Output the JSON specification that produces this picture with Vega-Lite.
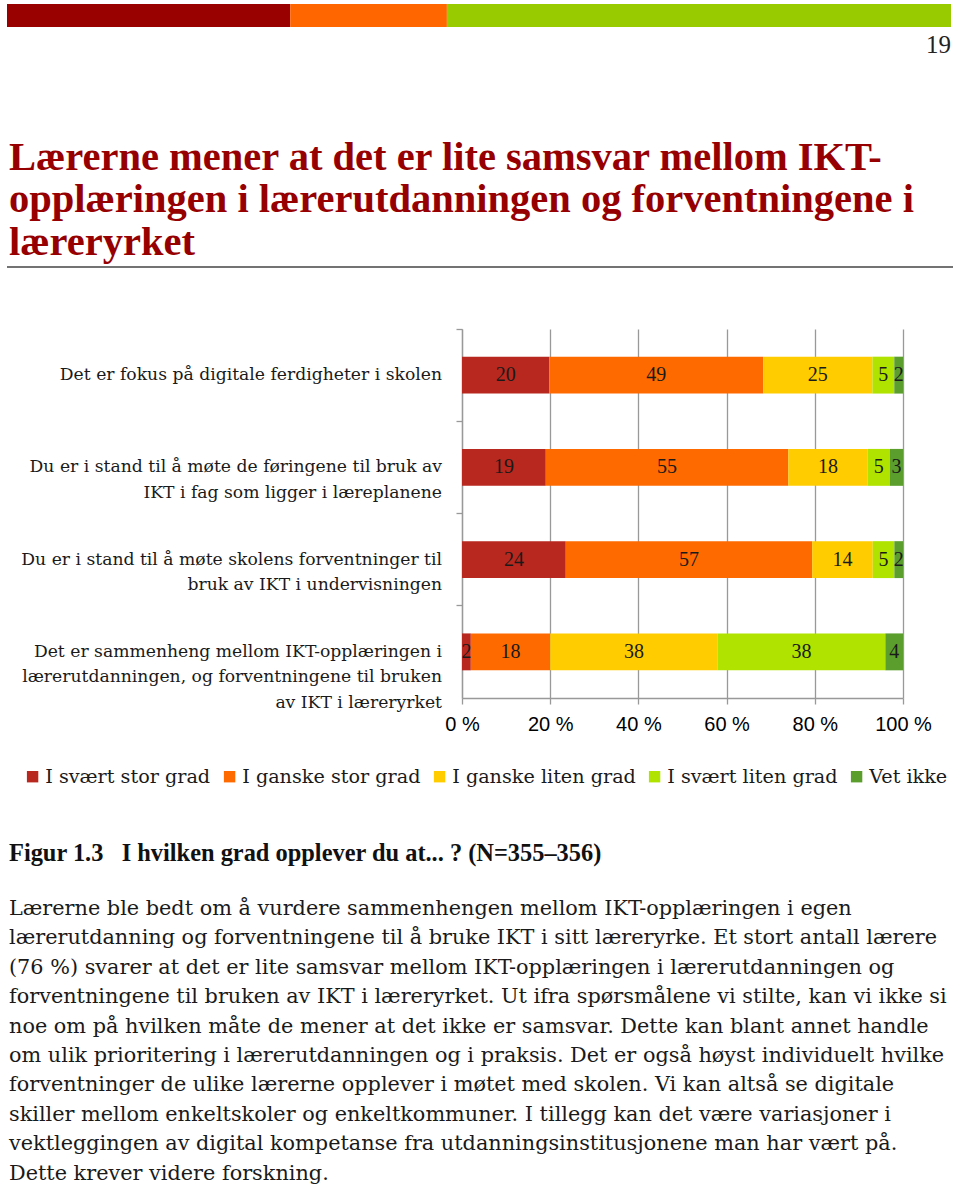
{
  "$schema": "https://vega.github.io/schema/vega-lite/v6.json",
  "background": "white",
  "padding": {"left": 6, "top": 4, "right": 0, "bottom": 0},
  "config": {"view": {"stroke": null}},
  "spacing": 0,
  "resolve": {"scale": {"color": "independent"}, "legend": {"color": "independent"}},
  "vconcat": [
    {
      "width": 944,
      "height": 23,
      "data": {"values": [
        {"band": "header", "segment": "a", "share": 30.0},
        {"band": "header", "segment": "b", "share": 16.6},
        {"band": "header", "segment": "c", "share": 53.4}
      ]},
      "mark": {"type": "bar"},
      "encoding": {
        "x": {"field": "share", "type": "quantitative", "stack": "zero", "scale": {"domain": [0, 100], "nice": false}, "axis": null},
        "y": {"field": "band", "type": "nominal", "scale": {"paddingInner": 0, "paddingOuter": 0}, "axis": null},
        "color": {"field": "segment", "type": "nominal", "scale": {"domain": ["a", "b", "c"], "range": ["#990000", "#FF6600", "#99CC00"]}, "legend": null},
        "order": {"field": "segment"}
      }
    },
    {
      "width": 946,
      "height": 301,
      "layer": [
        {
          "data": {"values": [
            {"line": 1, "text": "Lærerne mener at det er lite samsvar mellom IKT-"},
            {"line": 2, "text": "opplæringen i lærerutdanningen og forventningene i"},
            {"line": 3, "text": "læreryrket"}
          ]},
          "mark": {"type": "text", "align": "left", "baseline": "alphabetic", "font": "Liberation Serif", "fontWeight": "bold", "fontSize": 40.5, "color": "#960000", "dx": 2},
          "encoding": {
            "x": {"datum": 0, "type": "quantitative", "scale": {"domain": [0, 1], "nice": false, "zero": false}, "axis": null},
            "y": {"field": "line", "type": "quantitative", "scale": {"domain": [-2.365, 4.718], "reverse": true, "nice": false, "zero": false}, "axis": null},
            "text": {"field": "text"}
          }
        },
        {
          "data": {"values": [{"page": "19"}]},
          "mark": {"type": "text", "align": "right", "baseline": "alphabetic", "font": "Liberation Serif", "fontSize": 25, "color": "#222222", "dx": -2},
          "encoding": {
            "x": {"datum": 1, "type": "quantitative"},
            "y": {"datum": -1.753, "type": "quantitative"},
            "text": {"field": "page"}
          }
        },
        {
          "data": {"values": [{"rule": "title underline"}]},
          "mark": {"type": "rule", "color": "#444444", "strokeWidth": 1.5},
          "encoding": {
            "y": {"datum": 3.282, "type": "quantitative"}
          }
        }
      ]
    },
    {
      "spacing": 2,
      "resolve": {"legend": {"color": "shared"}},
      "hconcat": [
        {
          "width": 435,
          "height": 369,
          "data": {"values": [
            {"item": "Det er fokus på digitale ferdigheter i skolen"},
            {"item": "Du er i stand til å møte de føringene til bruk av|IKT i fag som ligger i læreplanene"},
            {"item": "Du er i stand til å møte skolens forventninger til|bruk av IKT i undervisningen"},
            {"item": "Det er sammenheng mellom IKT-opplæringen i|lærerutdanningen, og forventningene til bruken|av IKT i læreryrket"}
          ]},
          "mark": {"type": "text", "align": "right", "baseline": "middle", "lineBreak": "|", "lineHeight": 25.5, "font": "DejaVu Serif", "fontSize": 17.2, "color": "#1a1a1a"},
          "encoding": {
            "y": {
              "field": "item", "type": "nominal", "sort": null,
              "scale": {"paddingInner": 0.6, "paddingOuter": 0.3},
              "axis": null
            },
            "x": {"datum": 1, "type": "quantitative", "scale": {"domain": [0, 1], "nice": false}, "axis": null},
            "text": {"field": "item"}
          }
        },
        {
          "width": 441,
          "height": 369,
          "data": {"values": [
            {"item": "Det er fokus på digitale ferdigheter i skolen", "level": "I svært stor grad", "rank": 1, "pct": 20},
            {"item": "Det er fokus på digitale ferdigheter i skolen", "level": "I ganske stor grad", "rank": 2, "pct": 49},
            {"item": "Det er fokus på digitale ferdigheter i skolen", "level": "I ganske liten grad", "rank": 3, "pct": 25},
            {"item": "Det er fokus på digitale ferdigheter i skolen", "level": "I svært liten grad", "rank": 4, "pct": 5},
            {"item": "Det er fokus på digitale ferdigheter i skolen", "level": "Vet ikke", "rank": 5, "pct": 2},
            {"item": "Du er i stand til å møte de føringene til bruk av|IKT i fag som ligger i læreplanene", "level": "I svært stor grad", "rank": 1, "pct": 19},
            {"item": "Du er i stand til å møte de føringene til bruk av|IKT i fag som ligger i læreplanene", "level": "I ganske stor grad", "rank": 2, "pct": 55},
            {"item": "Du er i stand til å møte de føringene til bruk av|IKT i fag som ligger i læreplanene", "level": "I ganske liten grad", "rank": 3, "pct": 18},
            {"item": "Du er i stand til å møte de føringene til bruk av|IKT i fag som ligger i læreplanene", "level": "I svært liten grad", "rank": 4, "pct": 5},
            {"item": "Du er i stand til å møte de føringene til bruk av|IKT i fag som ligger i læreplanene", "level": "Vet ikke", "rank": 5, "pct": 3},
            {"item": "Du er i stand til å møte skolens forventninger til|bruk av IKT i undervisningen", "level": "I svært stor grad", "rank": 1, "pct": 24},
            {"item": "Du er i stand til å møte skolens forventninger til|bruk av IKT i undervisningen", "level": "I ganske stor grad", "rank": 2, "pct": 57},
            {"item": "Du er i stand til å møte skolens forventninger til|bruk av IKT i undervisningen", "level": "I ganske liten grad", "rank": 3, "pct": 14},
            {"item": "Du er i stand til å møte skolens forventninger til|bruk av IKT i undervisningen", "level": "I svært liten grad", "rank": 4, "pct": 5},
            {"item": "Du er i stand til å møte skolens forventninger til|bruk av IKT i undervisningen", "level": "Vet ikke", "rank": 5, "pct": 2},
            {"item": "Det er sammenheng mellom IKT-opplæringen i|lærerutdanningen, og forventningene til bruken|av IKT i læreryrket", "level": "I svært stor grad", "rank": 1, "pct": 2},
            {"item": "Det er sammenheng mellom IKT-opplæringen i|lærerutdanningen, og forventningene til bruken|av IKT i læreryrket", "level": "I ganske stor grad", "rank": 2, "pct": 18},
            {"item": "Det er sammenheng mellom IKT-opplæringen i|lærerutdanningen, og forventningene til bruken|av IKT i læreryrket", "level": "I ganske liten grad", "rank": 3, "pct": 38},
            {"item": "Det er sammenheng mellom IKT-opplæringen i|lærerutdanningen, og forventningene til bruken|av IKT i læreryrket", "level": "I svært liten grad", "rank": 4, "pct": 38},
            {"item": "Det er sammenheng mellom IKT-opplæringen i|lærerutdanningen, og forventningene til bruken|av IKT i læreryrket", "level": "Vet ikke", "rank": 5, "pct": 4}
          ]},
          "layer": [
            {
              "mark": {"type": "bar"},
              "encoding": {
                "y": {
                  "field": "item", "type": "nominal", "sort": null,
                  "scale": {"paddingInner": 0.6, "paddingOuter": 0.3},
                  "axis": {
                    "title": null,
                    "labels": false,
                    "bandPosition": -0.75,
                    "tickSize": 6,
                    "tickColor": "#999999",
                    "tickWidth": 1.3,
                    "domainColor": "#999999",
                    "domainWidth": 1.3,
                    "grid": false
                  }
                },
                "x": {
                  "field": "pct", "type": "quantitative", "stack": "normalize",
                  "scale": {"domain": [0, 1], "nice": false},
                  "axis": {
                    "title": null,
                    "values": [0, 0.2, 0.4, 0.6, 0.8, 1],
                    "labelExpr": "round(datum.value * 100) + ' %'",
                    "labelFont": "Liberation Sans",
                    "labelFontSize": 20,
                    "labelColor": "#000000",
                    "labelPadding": 10,
                    "labelFlush": false,
                    "labelOverlap": false,
                    "tickSize": 6,
                    "tickColor": "#999999",
                    "tickWidth": 1.3,
                    "domainColor": "#999999",
                    "domainWidth": 1.3,
                    "grid": true,
                    "gridColor": "#999999",
                    "gridWidth": 1.3
                  }
                },
                "color": {
                  "field": "level", "type": "nominal",
                  "scale": {
                    "domain": ["I svært stor grad", "I ganske stor grad", "I ganske liten grad", "I svært liten grad", "Vet ikke"],
                    "range": ["#B8281E", "#FF6A00", "#FFCC00", "#B0E400", "#5C9E2E"]
                  },
                  "legend": {
                    "orient": "bottom",
                    "direction": "horizontal",
                    "title": null,
                    "padding": 16,
                    "symbolType": "square",
                    "symbolSize": 130,
                    "symbolStrokeWidth": 0,
                    "labelFont": "DejaVu Serif",
                    "labelFontSize": 19.2,
                    "labelColor": "#1a1a1a",
                    "labelOffset": 3,
                    "columnPadding": 9,
                    "offset": 17,
                    "labelLimit": 300
                  }
                },
                "order": {"field": "rank"}
              }
            },
            {
              "mark": {"type": "text", "font": "Liberation Serif", "fontSize": 20, "color": "#1a1a1a", "baseline": "middle"},
              "encoding": {
                "y": {"field": "item", "type": "nominal", "sort": null},
                "x": {"field": "pct", "type": "quantitative", "stack": "normalize", "bandPosition": 0.5},
                "detail": {"field": "level", "type": "nominal"},
                "order": {"field": "rank"},
                "text": {"field": "pct", "type": "quantitative"}
              }
            }
          ]
        }
      ]
    },
    {
      "width": 946,
      "height": 384,
      "layer": [
        {
          "data": {"values": [
            {"line": 1, "text": "Lærerne ble bedt om å vurdere sammenhengen mellom IKT-opplæringen i egen"},
            {"line": 2, "text": "lærerutdanning og forventningene til å bruke IKT i sitt læreryrke. Et stort antall lærere"},
            {"line": 3, "text": "(76 %) svarer at det er lite samsvar mellom IKT-opplæringen i lærerutdanningen og"},
            {"line": 4, "text": "forventningene til bruken av IKT i læreryrket. Ut ifra spørsmålene vi stilte, kan vi ikke si"},
            {"line": 5, "text": "noe om på hvilken måte de mener at det ikke er samsvar. Dette kan blant annet handle"},
            {"line": 6, "text": "om ulik prioritering i lærerutdanningen og i praksis. Det er også høyst individuelt hvilke"},
            {"line": 7, "text": "forventninger de ulike lærerne opplever i møtet med skolen. Vi kan altså se digitale"},
            {"line": 8, "text": "skiller mellom enkeltskoler og enkeltkommuner. I tillegg kan det være variasjoner i"},
            {"line": 9, "text": "vektleggingen av digital kompetanse fra utdanningsinstitusjonene man har vært på."},
            {"line": 10, "text": "Dette krever videre forskning."}
          ]},
          "mark": {"type": "text", "align": "left", "baseline": "middle", "font": "DejaVu Serif", "fontSize": 20.8, "color": "#1a1a1a", "dx": 2},
          "encoding": {
            "x": {"datum": 0, "type": "quantitative", "scale": {"domain": [0, 1], "nice": false, "zero": false}, "axis": null},
            "y": {"field": "line", "type": "quantitative", "scale": {"domain": [-2.605, 10.456], "reverse": true, "nice": false, "zero": false}, "axis": null},
            "text": {"field": "text"}
          }
        },
        {
          "data": {"values": [{"caption": "Figur 1.3\u2002 I hvilken grad opplever du at... ? (N=355–356)"}]},
          "mark": {"type": "text", "align": "left", "baseline": "middle", "font": "Liberation Serif", "fontWeight": "bold", "fontSize": 24.4, "color": "#111111", "dx": 2},
          "encoding": {
            "x": {"datum": 0, "type": "quantitative"},
            "y": {"datum": -0.871, "type": "quantitative"},
            "text": {"field": "caption"}
          }
        }
      ]
    }
  ]
}
